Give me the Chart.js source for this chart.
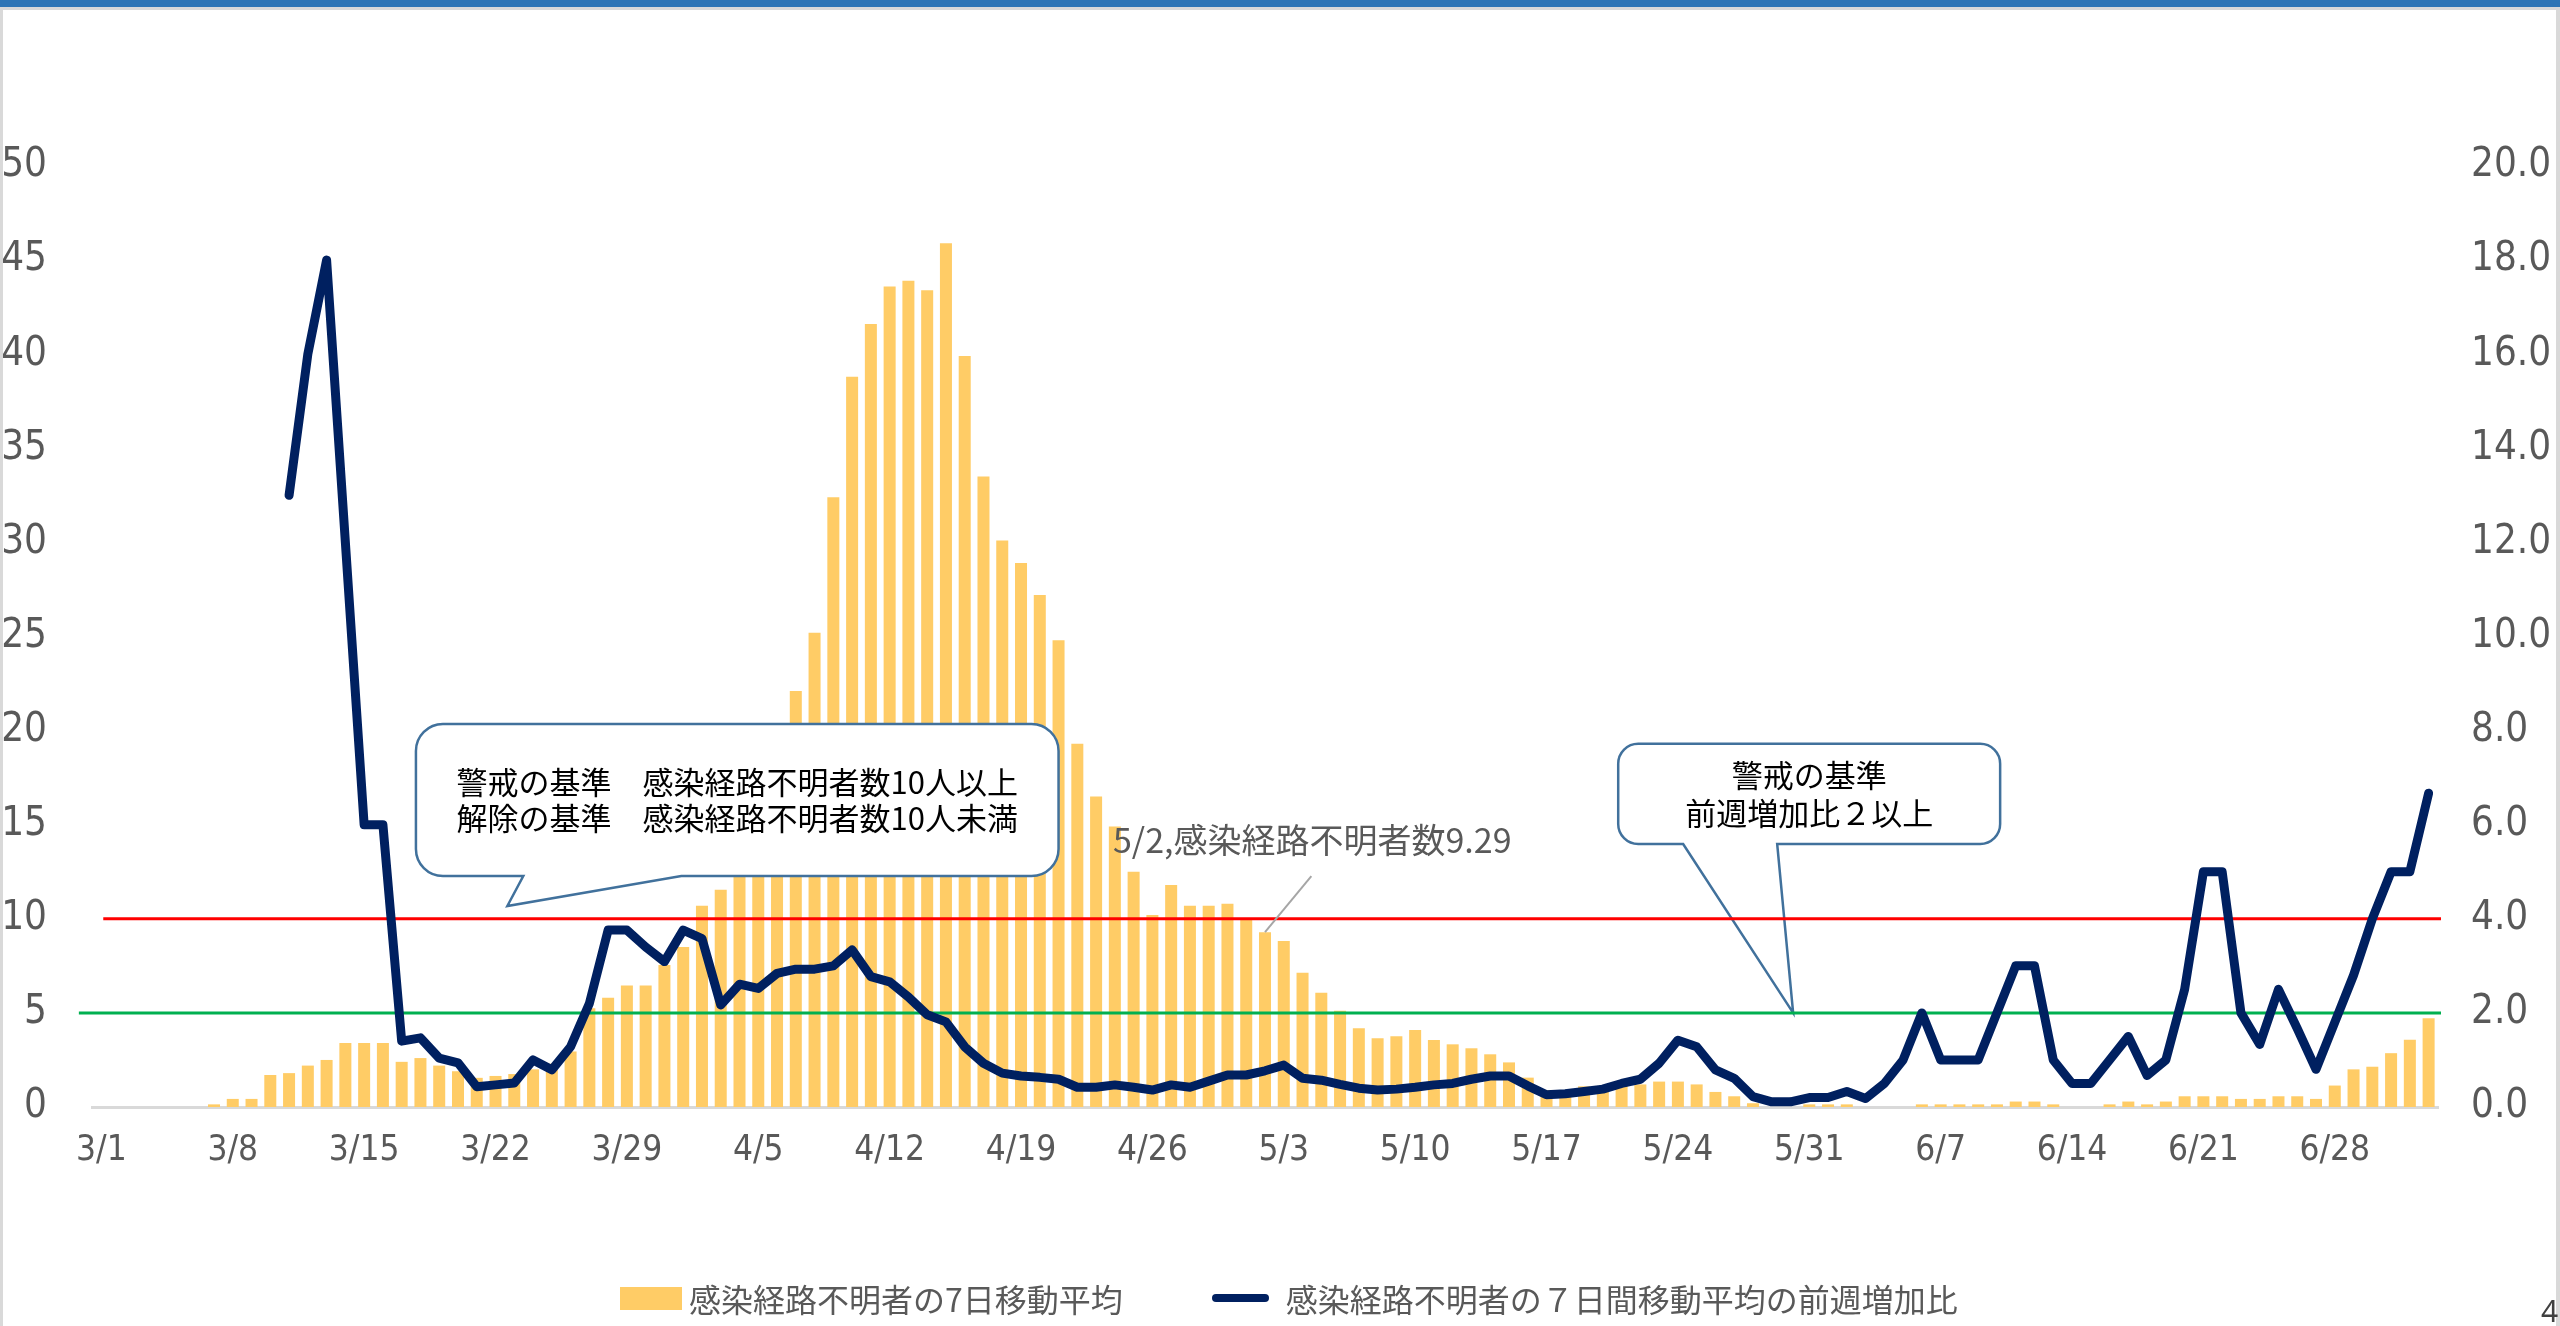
<!DOCTYPE html>
<html lang="ja">
<head>
<meta charset="utf-8">
<title>感染経路不明者の7日移動平均と前週増加比</title>
<script src="https://cdn.jsdelivr.net/npm/chart.js@4.4.0/dist/chart.umd.min.js"></script>
<style>
  html, body { margin: 0; padding: 0; background: #fff; }
  body { position: relative; width: 2560px; height: 1326px; overflow: hidden; }
  #chart { position: absolute; left: 0; top: 0; }
  .topbar { position: absolute; left: 0; top: 0; width: 2560px; height: 7px; background: #2E75B6; }
  .frame {
    position: absolute; left: 0; top: 7px; width: 2560px; height: 1319px;
    box-sizing: border-box; border: 3px solid #D9D9D9; border-right-width: 4px; border-bottom: none;
    pointer-events: none;
  }
  .legend {
    position: absolute; left: 620px; top: 1278px; height: 40px;
    display: flex; align-items: center;
    font-family: 'Noto Sans CJK JP', sans-serif; font-size: 32px; color: #595959;
  }
  .legend .item { display: flex; align-items: center; white-space: nowrap; }
  .legend .item + .item { margin-left: 89px; }
  .legend .sw-bar { width: 62px; height: 23px; margin-right: 7px; }
  .legend .sw-line { width: 57px; height: 8px; border-radius: 4px; margin-right: 17px; }
  .page-no {
    position: absolute; left: 2541px; top: 1290px;
    font-family: 'Noto Sans', sans-serif; font-size: 30px; color: #404040;
  }
</style>
</head>
<body>
<canvas id="chart" width="2560" height="1326"></canvas>
<div class="topbar"></div>
<div class="frame"></div>
<div class="legend" id="legend"></div>
<div class="page-no">4</div>

<script>
// Daily categories, 3/1 - 7/3
const dates = [
  '3/1','3/2','3/3','3/4','3/5','3/6','3/7','3/8','3/9','3/10','3/11','3/12','3/13','3/14','3/15','3/16',
  '3/17','3/18','3/19','3/20','3/21','3/22','3/23','3/24','3/25','3/26','3/27','3/28','3/29','3/30','3/31',
  '4/1','4/2','4/3','4/4','4/5','4/6','4/7','4/8','4/9','4/10','4/11','4/12','4/13','4/14','4/15',
  '4/16','4/17','4/18','4/19','4/20','4/21','4/22','4/23','4/24','4/25','4/26','4/27','4/28','4/29','4/30',
  '5/1','5/2','5/3','5/4','5/5','5/6','5/7','5/8','5/9','5/10','5/11','5/12','5/13','5/14','5/15','5/16',
  '5/17','5/18','5/19','5/20','5/21','5/22','5/23','5/24','5/25','5/26','5/27','5/28','5/29','5/30','5/31',
  '6/1','6/2','6/3','6/4','6/5','6/6','6/7','6/8','6/9','6/10','6/11','6/12','6/13','6/14','6/15',
  '6/16','6/17','6/18','6/19','6/20','6/21','6/22','6/23','6/24','6/25','6/26','6/27','6/28','6/29','6/30',
  '7/1','7/2','7/3'
];

// 7-day moving average of cases with unknown infection route (left axis)
const unknownAvg = [
  0, 0, 0, 0, 0, 0, 0.14, 0.43, 0.43, 1.7, 1.8, 2.2, 2.5, 3.4, 3.4, 3.4,
  2.4, 2.6, 2.2, 1.9, 1.55, 1.65, 1.75, 2.0, 2.3, 2.95, 5.25, 5.8, 6.45, 6.45, 7.55,
  8.5, 10.7, 11.55, 12.9, 14.3, 17.4, 22.1, 25.2, 32.4, 38.8, 41.6, 43.6, 43.9, 43.4, 45.9,
  39.9, 33.5, 30.1, 28.9, 27.2, 24.8, 19.3, 16.5, 14.9, 12.5, 10.2, 11.8, 10.7, 10.7, 10.8,
  9.93, 9.29, 8.82, 7.14, 6.07, 5.12, 4.18, 3.65, 3.76, 4.09, 3.56, 3.33, 3.12, 2.8, 2.37, 1.56,
  0.9, 0.9, 1.1, 1.1, 1.2, 1.2, 1.35, 1.35, 1.2, 0.8, 0.57, 0.2, 0, 0, 0.14,
  0.14, 0.14, 0, 0, 0, 0.14, 0.14, 0.14, 0.14, 0.14, 0.29, 0.29, 0.14, 0, 0,
  0.14, 0.29, 0.14, 0.29, 0.57, 0.57, 0.57, 0.43, 0.43, 0.57, 0.57, 0.43, 1.14, 2.0, 2.14,
  2.86, 3.57, 4.71
];

// Week-over-week ratio of that moving average (right axis)
const weeklyRatio = [
  null, null, null, null, null, null, null, null, null, null, 13.0, 16.0, 18.0, 12.0, 6.0, 6.0,
  1.4, 1.47, 1.04, 0.94, 0.43, 0.47, 0.51, 1.0, 0.79, 1.28, 2.2, 3.76, 3.76, 3.4, 3.09,
  3.76, 3.58, 2.17, 2.61, 2.52, 2.84, 2.93, 2.93, 3.0, 3.34, 2.77, 2.66, 2.34, 1.96, 1.81,
  1.28, 0.93, 0.72, 0.66, 0.63, 0.59, 0.42, 0.42, 0.47, 0.42, 0.36, 0.47, 0.42, 0.55, 0.68,
  0.68, 0.77, 0.89, 0.61, 0.57, 0.48, 0.4, 0.36, 0.38, 0.42, 0.47, 0.5, 0.59, 0.66, 0.66, 0.45,
  0.26, 0.28, 0.33, 0.38, 0.5, 0.59, 0.93, 1.42, 1.28, 0.79, 0.61, 0.22, 0.11, 0.11, 0.2,
  0.2, 0.33, 0.18, 0.5, 1.0, 2.0, 1.0, 1.0, 1.0, 2.0, 3.0, 3.0, 1.0, 0.5, 0.5,
  1.0, 1.5, 0.67, 1.0, 2.5, 5.0, 5.0, 2.0, 1.33, 2.5, 1.67, 0.8, 1.8, 2.8, 4.0,
  5.0, 5.0, 6.67
];

const leftTicks = [0, 5, 10, 15, 20, 25, 30, 35, 40, 45, 50];
const rightTicks = [0, 2, 4, 6, 8, 10, 12, 14, 16, 18, 20];

// alert criteria
const caseThreshold = 10;   // unknown-route cases (left axis)
const ratioThreshold = 2;   // week-over-week ratio (right axis)

const barLabel = '感染経路不明者の7日移動平均';
const lineLabel = '感染経路不明者の７日間移動平均の前週増加比';
const labelDate = '5/2';

const tickFont = "'Liberation Sans Narrow', 'DejaVu Sans Condensed', sans-serif";
const jpFont = "'Noto Sans CJK JP', sans-serif";

// speech-bubble callouts, placed in data units (x = category index)
const callouts = [
  {
    axis: 'y', x0: 16.76, x1: 51.0, top: 20.35, bottom: 12.27, radius: 27,
    tail: [22.48, 30.9], tip: [21.63, 10.68],
    lines: ['警戒の基準　感染経路不明者数10人以上', '解除の基準　感染経路不明者数10人未満'],
    lineGap: 36
  },
  {
    axis: 'y1', x0: 80.82, x1: 101.17, top: 7.72, bottom: 5.59, radius: 20,
    tail: [84.28, 89.29], tip: [90.14, 2.0],
    lines: ['警戒の基準', '前週増加比２以上'],
    lineGap: 38
  }
];

function roundedCallout(ctx, l, t, r, b, rad, ta, tb, tx, ty) {
  ctx.beginPath();
  ctx.moveTo(l + rad, t);
  ctx.lineTo(r - rad, t);
  ctx.arcTo(r, t, r, t + rad, rad);
  ctx.lineTo(r, b - rad);
  ctx.arcTo(r, b, r - rad, b, rad);
  ctx.lineTo(tb, b);
  ctx.lineTo(tx, ty);
  ctx.lineTo(ta, b);
  ctx.lineTo(l + rad, b);
  ctx.arcTo(l, b, l, b - rad, rad);
  ctx.lineTo(l, t + rad);
  ctx.arcTo(l, t, l + rad, t, rad);
  ctx.closePath();
}

function drawCallouts(chart) {
  const ctx = chart.ctx;
  const xs = chart.scales.x;
  callouts.forEach(c => {
    const ys = chart.scales[c.axis];
    const l = xs.getPixelForValue(c.x0), r = xs.getPixelForValue(c.x1);
    const t = ys.getPixelForValue(c.top), b = ys.getPixelForValue(c.bottom);
    ctx.save();
    roundedCallout(ctx, l, t, r, b, c.radius,
      xs.getPixelForValue(c.tail[0]), xs.getPixelForValue(c.tail[1]),
      xs.getPixelForValue(c.tip[0]), ys.getPixelForValue(c.tip[1]));
    ctx.fillStyle = '#fff';
    ctx.fill();
    ctx.lineWidth = 2.5;
    ctx.strokeStyle = '#41719C';
    ctx.stroke();
    ctx.fillStyle = '#000';
    ctx.font = '31px ' + jpFont;
    ctx.textAlign = 'center';
    ctx.textBaseline = 'middle';
    const cx = (l + r) / 2, cy = (t + b) / 2;
    const start = cy - (c.lines.length - 1) * c.lineGap / 2;
    c.lines.forEach((txt, i) => ctx.fillText(txt, cx, start + i * c.lineGap));
    ctx.restore();
  });
}

function drawThresholds(chart) {
  const ctx = chart.ctx;
  const xs = chart.scales.x;
  const right = chart.chartArea.right + 3;
  ctx.save();
  ctx.lineWidth = 3;
  // red: case count criterion on the left axis
  let y = chart.scales.y.getPixelForValue(caseThreshold);
  ctx.strokeStyle = '#FF0000';
  ctx.beginPath();
  ctx.moveTo(xs.getPixelForValue(0.1), y);
  ctx.lineTo(right, y);
  ctx.stroke();
  // green: ratio criterion on the right axis
  y = chart.scales.y1.getPixelForValue(ratioThreshold);
  ctx.strokeStyle = '#00B050';
  ctx.beginPath();
  ctx.moveTo(xs.getPixelForValue(-1.2), y);
  ctx.lineTo(right, y);
  ctx.stroke();
  ctx.restore();
}

function drawValueLabel(chart) {
  const ctx = chart.ctx;
  const xs = chart.scales.x, ys = chart.scales.y;
  const i = dates.indexOf(labelDate);
  const bx = xs.getPixelForValue(i), by = ys.getPixelForValue(unknownAvg[i]);
  ctx.save();
  ctx.strokeStyle = '#A6A6A6';
  ctx.lineWidth = 2;
  ctx.beginPath();
  ctx.moveTo(bx, by);
  ctx.lineTo(xs.getPixelForValue(i + 2.47), ys.getPixelForValue(12.27));
  ctx.stroke();
  ctx.fillStyle = '#595959';
  ctx.font = '34px ' + jpFont;
  ctx.textAlign = 'left';
  ctx.textBaseline = 'middle';
  ctx.fillText(`${dates[i]},感染経路不明者数${unknownAvg[i]}`, xs.getPixelForValue(i - 8.1), ys.getPixelForValue(14.2));
  ctx.restore();
}

const annotationPlugin = {
  id: 'annotations',
  beforeDatasetDraw(chart, args) {
    if (args.meta.type !== 'line') return;
    drawCallouts(chart);
    drawThresholds(chart);
  },
  afterDatasetsDraw(chart) {
    drawValueLabel(chart);
  }
};

const chart = new Chart(document.getElementById('chart'), {
  data: {
    labels: dates,
    datasets: [
      {
        type: 'bar',
        label: barLabel,
        data: unknownAvg,
        backgroundColor: '#FFCC66',
        yAxisID: 'y',
        order: 1,
        barPercentage: 0.64,
        categoryPercentage: 1.0
      },
      {
        type: 'line',
        label: lineLabel,
        data: weeklyRatio,
        borderColor: '#002060',
        borderWidth: 9,
        borderJoinStyle: 'round',
        borderCapStyle: 'round',
        pointRadius: 0,
        tension: 0,
        yAxisID: 'y1',
        order: 0
      }
    ]
  },
  options: {
    responsive: false,
    animation: false,
    layout: { padding: { top: 166, left: 0, right: 0, bottom: 0 } },
    plugins: {
      legend: { display: false },
      tooltip: { enabled: false }
    },
    scales: {
      x: {
        grid: { display: false, drawTicks: false },
        border: { display: true, color: '#D9D9D9', width: 3 },
        ticks: {
          autoSkip: false,
          maxRotation: 0,
          padding: 23,
          color: '#595959',
          font: { family: tickFont, size: 35 },
          callback: (v, i) => (i % 7 === 0 ? dates[i] : '')
        },
        afterFit: s => { s.height = 219; }
      },
      y: {
        position: 'left',
        min: 0,
        max: 50,
        grid: { display: false, drawTicks: false },
        border: { display: false },
        ticks: { padding: 45, color: '#595959', font: { family: tickFont, size: 40 } },
        afterBuildTicks: s => { s.ticks = leftTicks.map(v => ({ value: v })); },
        afterFit: s => { s.width = 92; }
      },
      y1: {
        position: 'right',
        min: 0,
        max: 20,
        grid: { display: false, drawTicks: false },
        border: { display: false },
        ticks: {
          padding: 33,
          color: '#595959',
          font: { family: tickFont, size: 40 },
          callback: v => v.toFixed(1)
        },
        afterBuildTicks: s => { s.ticks = rightTicks.map(v => ({ value: v })); },
        afterFit: s => { s.width = 122; }
      }
    }
  },
  plugins: [annotationPlugin]
});

// legend below the plot, built from the datasets
const legend = document.getElementById('legend');
chart.data.datasets.forEach(ds => {
  const item = document.createElement('span');
  item.className = 'item';
  const sw = document.createElement('i');
  if (ds.type === 'bar') {
    sw.className = 'sw-bar';
    sw.style.background = ds.backgroundColor;
  } else {
    sw.className = 'sw-line';
    sw.style.background = ds.borderColor;
  }
  item.appendChild(sw);
  item.appendChild(document.createTextNode(ds.label));
  legend.appendChild(item);
});
</script>
</body>
</html>
